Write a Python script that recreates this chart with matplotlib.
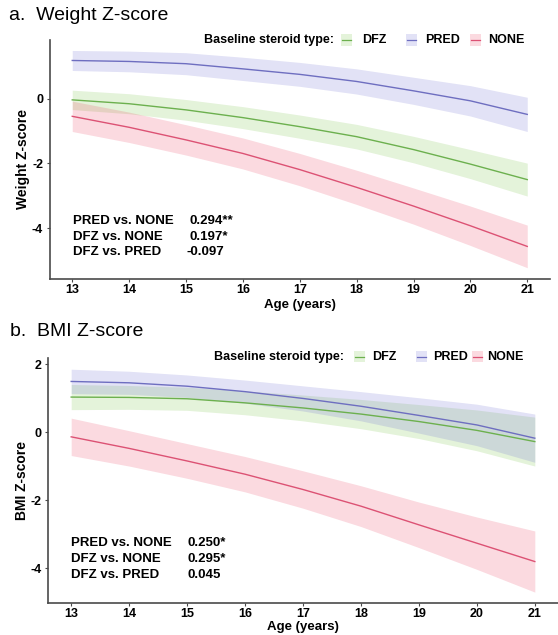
import matplotlib
matplotlib.use("Agg")
import matplotlib.pyplot as plt
from matplotlib.patches import Rectangle
from matplotlib.lines import Line2D

plt.rcParams['font.family'] = ['Liberation Sans', 'DejaVu Sans']

W, H = 558, 635

# ---- data ----
ages = [13, 14, 15, 16, 17, 18, 19, 20, 21]
groups = ["DFZ", "PRED", "NONE"]

# a. Weight Z-score
wt_dfz = [-0.03, -0.15, -0.34, -0.58, -0.86, -1.17, -1.57, -2.02, -2.50]
wt_dfz_lo = [-0.33, -0.46, -0.66, -0.92, -1.22, -1.55, -1.98, -2.47, -3.01]
wt_dfz_hi = [0.27, 0.16, -0.02, -0.24, -0.50, -0.79, -1.16, -1.57, -1.99]
wt_pred = [1.19, 1.16, 1.09, 0.93, 0.76, 0.54, 0.25, -0.06, -0.48]
wt_pred_lo = [0.88, 0.84, 0.75, 0.57, 0.39, 0.15, -0.17, -0.53, -1.01]
wt_pred_hi = [1.50, 1.48, 1.43, 1.29, 1.13, 0.93, 0.67, 0.41, 0.05]
wt_none = [-0.54, -0.88, -1.27, -1.69, -2.19, -2.74, -3.32, -3.93, -4.57]
wt_none_lo = [-1.01, -1.35, -1.74, -2.17, -2.69, -3.27, -3.88, -4.54, -5.23]
wt_none_hi = [-0.07, -0.41, -0.80, -1.21, -1.69, -2.21, -2.76, -3.32, -3.91]

# b. BMI Z-score
bmi_dfz = [1.04, 1.03, 0.99, 0.87, 0.72, 0.54, 0.32, 0.06, -0.27]
bmi_dfz_lo = [0.67, 0.68, 0.65, 0.52, 0.34, 0.11, -0.18, -0.54, -0.99]
bmi_dfz_hi = [1.41, 1.38, 1.33, 1.22, 1.10, 0.97, 0.82, 0.66, 0.45]
bmi_pred = [1.50, 1.46, 1.36, 1.20, 1.00, 0.77, 0.50, 0.22, -0.17]
bmi_pred_lo = [1.14, 1.12, 1.03, 0.86, 0.63, 0.34, -0.02, -0.39, -0.88]
bmi_pred_hi = [1.86, 1.80, 1.69, 1.54, 1.37, 1.20, 1.02, 0.83, 0.54]
bmi_none = [-0.13, -0.47, -0.84, -1.23, -1.68, -2.17, -2.72, -3.26, -3.80]
bmi_none_lo = [-0.68, -0.99, -1.35, -1.75, -2.23, -2.77, -3.39, -4.03, -4.70]
bmi_none_hi = [0.42, 0.05, -0.33, -0.71, -1.13, -1.57, -2.05, -2.49, -2.90]

comparisons = ["PRED vs. NONE", "DFZ vs. NONE", "DFZ vs. PRED"]
wt_stats = ["0.294**", "0.197*", "-0.097"]
bmi_stats = ["0.250*", "0.295*", "0.045"]

x_ticks = [13, 14, 15, 16, 17, 18, 19, 20, 21]

# ---- style ----
line_col = {"DFZ": "#6cb04e", "PRED": "#6e6ec0", "NONE": "#dc5274"}
fill_col = {"DFZ": "#78c346", "PRED": "#6e6ed2", "NONE": "#eb4664"}
FILL_ALPHA = 0.2
AXIS_COL = "#4a4a4a"


def px(x, y):
    """pixel position (from top-left) -> figure fraction"""
    return x / W, 1 - y / H


def draw_panel(ax, series, ylim, yticks, ylabel, ylab_x, xlab_y):
    for g in groups:
        mid, lo, hi = series[g]
        ax.fill_between(ages, lo, hi, color=fill_col[g], alpha=FILL_ALPHA, lw=0)
        ax.plot(ages, mid, color=line_col[g], lw=1.0)
    ax.set_xlim(12.6, 21.4)
    ax.set_ylim(*ylim)
    ax.set_xticks(x_ticks)
    ax.set_yticks(yticks)
    ax.set_yticklabels([str(t) for t in yticks])
    for s in ["top", "right"]:
        ax.spines[s].set_visible(False)
    for s in ["left", "bottom"]:
        ax.spines[s].set_color(AXIS_COL)
        ax.spines[s].set_linewidth(1.2)
    ax.tick_params(length=2.5, width=0.8, color=AXIS_COL, pad=2,
                   labelsize=9)
    ax.tick_params(axis="x", pad=1)
    for lab in ax.get_xticklabels() + ax.get_yticklabels():
        lab.set_fontweight("bold")
    ax.set_ylabel(ylabel, fontsize=10, fontweight="bold")
    ax.yaxis.set_label_coords(ylab_x, 0.5)
    ax.set_xlabel("Age (years)", fontsize=9.5, fontweight="bold")
    ax.xaxis.set_label_coords(0.5, xlab_y)


def draw_legend(fig, title_x, y, keys):
    fig.text(*px(title_x, y), "Baseline steroid type:", fontsize=9,
             fontweight="bold", va="center", ha="left")
    for g, (kx, tx) in zip(groups, keys):
        x0, y0 = px(kx - 5.5, y + 5.5)
        fig.add_artist(Rectangle((x0, y0), 11 / W, 11 / H,
                                 transform=fig.transFigure,
                                 facecolor=fill_col[g], alpha=FILL_ALPHA, lw=0))
        xa, ya = px(kx - 4.5, y)
        xb, _ = px(kx + 4.5, y)
        fig.add_artist(Line2D([xa, xb], [ya, ya], transform=fig.transFigure,
                              color=line_col[g], lw=0.9))
        fig.text(*px(tx, y), g, fontsize=9, fontweight="bold",
                 va="center", ha="left")


def draw_stats(fig, name_x, val_xs, rows_y, values):
    for name, val, vx, ry in zip(comparisons, values, val_xs, rows_y):
        fig.text(*px(name_x, ry), name, fontsize=9.5, fontweight="bold",
                 va="center", ha="left")
        fig.text(*px(vx, ry), val, fontsize=9.5, fontweight="bold",
                 va="center", ha="left")


fig = plt.figure(figsize=(W / 100, H / 100), dpi=100)

ax_a = fig.add_axes([49.5 / W, 1 - 278.7 / H, 500.5 / W, 239.2 / H])
draw_panel(ax_a,
           {"DFZ": (wt_dfz, wt_dfz_lo, wt_dfz_hi),
            "PRED": (wt_pred, wt_pred_lo, wt_pred_hi),
            "NONE": (wt_none, wt_none_lo, wt_none_hi)},
           (-5.57, 1.84), [-4, -2, 0], "Weight Z-score", -0.039, -0.085)

ax_b = fig.add_axes([48 / W, 1 - 603 / H, 510 / W, 245 / H])
draw_panel(ax_b,
           {"DFZ": (bmi_dfz, bmi_dfz_lo, bmi_dfz_hi),
            "PRED": (bmi_pred, bmi_pred_lo, bmi_pred_hi),
            "NONE": (bmi_none, bmi_none_lo, bmi_none_hi)},
           (-5.02, 2.19), [-4, -2, 0, 2], "BMI Z-score", -0.037, -0.0735)

fig.text(*px(9, 15), "a.  Weight Z-score", fontsize=14, va="center", ha="left")
fig.text(*px(10, 331), "b.  BMI Z-score", fontsize=14, va="center", ha="left")

draw_legend(fig, 204, 40, [(346.7, 361.7), (411.7, 425), (475, 487.7)])
draw_legend(fig, 213.5, 356.7, [(359.4, 372), (421.7, 433.5), (477, 487.5)])

draw_stats(fig, 73.3, [189, 190, 186.7], [221.3, 236.7, 252.3], wt_stats)
draw_stats(fig, 71.2, [188, 188, 188], [543.3, 559.3, 575], bmi_stats)

fig.savefig("out.png", dpi=100)
